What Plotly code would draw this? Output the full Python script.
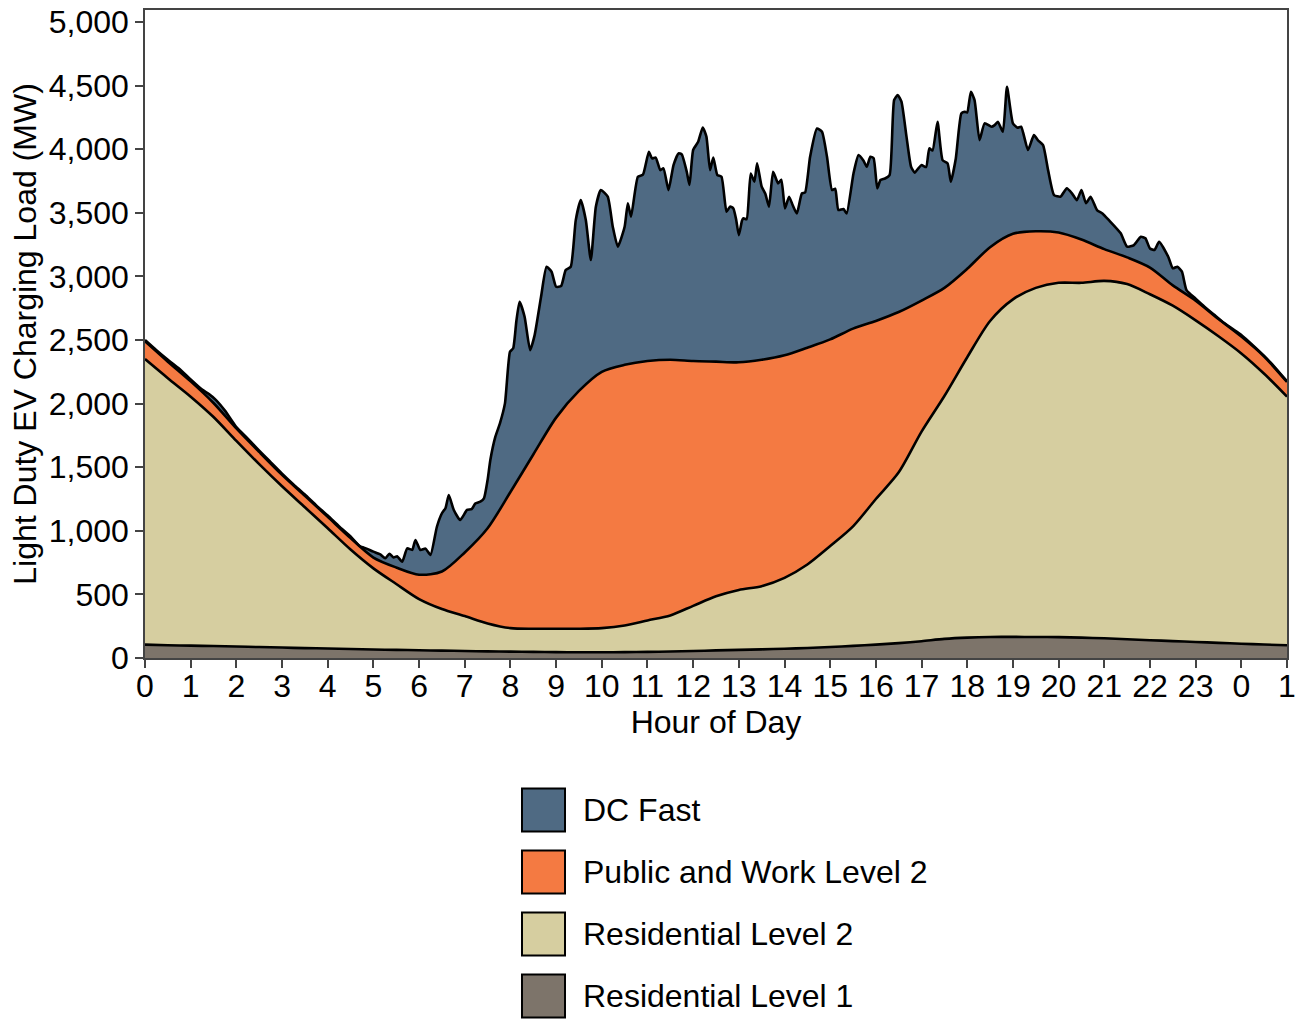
import plotly.graph_objects as go

# ---------------- data (MW, cumulative top of each stacked layer) ----------------
hours = [i * 0.5 for i in range(51)]  # 0 .. 25 h

res_l1_top = [105, 100, 97, 94, 90, 86, 82, 78, 75, 71, 67, 64, 61, 58, 55, 52, 50, 48, 46, 45,
              45, 46, 48, 51, 55, 60, 64, 68, 73, 79, 86, 95, 105, 117, 132, 150, 160, 165, 166, 165,
              164, 160, 155, 148, 140, 133, 126, 119, 112, 106, 100]

res_l2_top = [2350, 2200, 2055, 1895, 1707, 1524, 1350, 1185, 1020, 853, 705, 582, 463, 385, 330, 272,
              235, 230, 230, 230, 235, 255, 295, 335, 410, 485, 535, 565, 630, 735, 880, 1035, 1250,
              1460, 1780, 2060, 2365, 2650, 2820, 2910, 2950, 2950, 2965, 2940, 2860, 2770, 2655,
              2530, 2395, 2235, 2055]

public_top = [2490, 2330, 2175, 2005, 1805, 1620, 1440, 1275, 1110, 943, 790, 712, 655, 680, 830,
              1020, 1305, 1600, 1890, 2100, 2250, 2305, 2335, 2345, 2335, 2330, 2325, 2345, 2380,
              2440, 2505, 2590, 2650, 2720, 2810, 2910, 3060, 3230, 3335, 3355, 3345, 3290, 3215,
              3150, 3070, 2930, 2810, 2665, 2527, 2370, 2170]

dc_hours = [0, 0.25, 0.5, 0.75, 1.0, 1.25, 1.4, 1.55, 1.75, 2.0, 2.25, 2.5, 2.75, 3.0, 3.25, 3.5,
            3.75, 4.0, 4.25, 4.5, 4.7, 4.85, 5.0, 5.15, 5.26, 5.35, 5.44, 5.52, 5.63, 5.74, 5.85,
            5.92, 6.03, 6.14, 6.25, 6.39, 6.5, 6.58, 6.65, 6.76, 6.9, 7.05, 7.15, 7.23, 7.34, 7.42,
            7.5, 7.56, 7.67, 7.77, 7.88, 7.99, 8.06, 8.13, 8.2, 8.31, 8.43, 8.53, 8.67, 8.79, 8.9,
            9.0, 9.11, 9.21, 9.32, 9.43, 9.54, 9.65, 9.76, 9.87, 9.98, 10.13, 10.24, 10.35, 10.5,
            10.57, 10.64, 10.79, 10.9, 11.03, 11.1, 11.18, 11.28, 11.35, 11.46, 11.57, 11.68,
            11.75, 11.86, 11.92, 12.0, 12.11, 12.21, 12.29, 12.37, 12.44, 12.53, 12.62, 12.73,
            12.81, 12.88, 12.94, 13.0, 13.07, 13.1, 13.17, 13.26, 13.34, 13.4, 13.5, 13.58, 13.66,
            13.75, 13.86, 13.93, 14.01, 14.1, 14.18, 14.27, 14.38, 14.45, 14.56, 14.71, 14.82,
            14.93, 15.04, 15.11, 15.18, 15.29, 15.36, 15.51, 15.62, 15.73, 15.8, 15.88, 15.95,
            16.03, 16.1, 16.2, 16.3, 16.4, 16.48, 16.56, 16.67, 16.77, 16.85, 16.93, 17.0, 17.1,
            17.17, 17.24, 17.35, 17.46, 17.57, 17.64, 17.75, 17.87, 17.94, 18.0, 18.08, 18.16,
            18.27, 18.38, 18.53, 18.6, 18.67, 18.78, 18.87, 19.0, 19.1, 19.18, 19.33, 19.46,
            19.55, 19.66, 19.77, 19.9, 20.04, 20.18, 20.3, 20.4, 20.5, 20.6, 20.7, 20.84, 20.96,
            21.1, 21.36, 21.5, 21.65, 21.8, 21.9, 22.0, 22.1, 22.2, 22.4, 22.5, 22.6, 22.7, 22.8,
            23.0, 23.2, 23.4, 23.6, 23.8, 24.0, 24.25, 24.5, 24.75, 25.0]

dc_fast_top = [2500, 2420, 2345, 2275, 2190, 2110, 2075, 2030, 1945, 1815, 1725, 1630, 1540, 1450,
               1365, 1285, 1200, 1120, 1035, 955, 880, 860, 836, 815, 784, 820, 790, 800, 757, 862,
               850, 928, 849, 860, 810, 1032, 1138, 1180, 1281, 1164, 1085, 1164, 1170, 1215, 1229,
               1255, 1400, 1557, 1740, 1845, 2002, 2408, 2435, 2650, 2801, 2683, 2421, 2539, 2840,
               3076, 3037, 2919, 2925, 3050, 3076, 3443, 3600, 3443, 3129, 3548, 3679, 3627, 3391,
               3234, 3391, 3575, 3470, 3784, 3800, 3980, 3928, 3935, 3836, 3850, 3679, 3876, 3968,
               3960, 3823, 3719, 3994, 4059, 4171, 4099, 3836, 3935, 3797, 3784, 3509, 3550, 3535,
               3450, 3325, 3440, 3457, 3450, 3810, 3745, 3889, 3706, 3650, 3548, 3823, 3732, 3760,
               3535, 3627, 3560, 3495, 3653, 3660, 3941, 4163, 4138, 3941, 3679, 3690, 3522, 3530,
               3495, 3810, 3954, 3910, 3863, 3941, 3930, 3693, 3758, 3770, 3797, 4387, 4426, 4374,
               4099, 3863, 3816, 3850, 3876, 3860, 4007, 3990, 4216, 3915, 3889, 3745, 3928, 4282,
               4295, 4290, 4452, 4387, 4072, 4204, 4177, 4190, 4216, 4138, 4492, 4204, 4170, 4177,
               3994, 4112, 4070, 4033, 3836, 3640, 3627, 3693, 3650, 3600, 3679, 3575, 3627, 3522,
               3495, 3443, 3339, 3234, 3247, 3312, 3300, 3220, 3208, 3273, 3155, 3064, 3076, 3037,
               2893, 2825, 2760, 2700, 2640, 2590, 2540, 2460, 2375, 2280, 2175]

series_names = ["DC Fast", "Public and Work Level 2", "Residential Level 2", "Residential Level 1"]
series_colors = ["#4f6a83", "#f47a42", "#d6cea0", "#7d746a"]

x_tick_vals = list(range(26))
x_tick_text = [str(h) for h in range(24)] + ["0", "1"]
y_tick_vals = list(range(0, 5001, 500))

FONT = "Liberation Sans, Arial, sans-serif"
FS = 32

# body margin is removed by a post script, so the figure fills the window exactly
FIG_W, FIG_H = 1298, 1022
L, T, PW, PH = 145, 10, 1142, 648

fig = go.Figure()
smooth = dict(color="black", width=2.6, shape="spline", smoothing=0.8)

fig.add_trace(go.Scatter(x=hours, y=res_l1_top, mode="lines", line=smooth,
                         fill="tozeroy", fillcolor=series_colors[3], name=series_names[3],
                         showlegend=False))
fig.add_trace(go.Scatter(x=hours, y=res_l2_top, mode="lines", line=smooth,
                         fill="tonexty", fillcolor=series_colors[2], name=series_names[2],
                         showlegend=False))
fig.add_trace(go.Scatter(x=hours, y=public_top, mode="lines", line=smooth,
                         fill="tonexty", fillcolor=series_colors[1], name=series_names[1],
                         showlegend=False))
fig.add_trace(go.Scatter(x=dc_hours, y=dc_fast_top, mode="lines",
                         line=dict(color="black", width=2.6, shape="spline", smoothing=0.5),
                         fill="tonexty", fillcolor=series_colors[0], name=series_names[0],
                         showlegend=False))

# ---------------- manual legend below the plot (reference pixel positions) ----------------
def px_x(px):
    return (px - L) / PW
def px_y(py):
    return (T + PH - py) / PH

shapes = []
annotations = []
for i, (nm, col) in enumerate(zip(series_names, series_colors)):
    cy = 810 + i * 62
    shapes.append(dict(type="rect", xref="paper", yref="paper",
                       x0=px_x(522), x1=px_x(565), y0=px_y(cy + 21.5), y1=px_y(cy - 21.5),
                       fillcolor=col, line=dict(color="black", width=2)))
    annotations.append(dict(xref="paper", yref="paper", x=px_x(581), y=px_y(cy),
                            text=nm, showarrow=False, xanchor="left", yanchor="middle",
                            font=dict(family=FONT, size=FS, color="black")))

fig.update_layout(
    width=FIG_W, height=FIG_H,
    margin=dict(l=L, r=FIG_W - L - PW, t=T, b=FIG_H - T - PH, pad=0, autoexpand=False),
    paper_bgcolor="white", plot_bgcolor="white",
    font=dict(family=FONT, color="black"),
    shapes=shapes, annotations=annotations,
    showlegend=False,
)
fig.update_xaxes(range=[0, 25], tickvals=x_tick_vals, ticktext=x_tick_text,
                 ticks="outside", ticklen=8, tickwidth=1.5, tickcolor="#444",
                 showline=True, linecolor="#444", linewidth=1.5, mirror=True,
                 showgrid=False, zeroline=False, ticklabeloverflow="allow",
                 ticklabelstandoff=-9, automargin=False,
                 tickfont=dict(family=FONT, size=FS, color="black"),
                 title=dict(text="Hour of Day", font=dict(family=FONT, size=FS, color="black"),
                            standoff=4))
fig.update_yaxes(range=[0, 5095], tickvals=y_tick_vals, tickformat=",",
                 ticks="outside", ticklen=8, tickwidth=1.5, tickcolor="#444",
                 showline=True, linecolor="#444", linewidth=1.5, mirror=True,
                 showgrid=False, zeroline=False, ticklabeloverflow="allow",
                 automargin=False,
                 tickfont=dict(family=FONT, size=FS, color="black"),
                 title=dict(text="Light Duty EV Charging Load (MW)",
                            font=dict(family=FONT, size=FS, color="black"), standoff=3))

fig.write_html("out.html", config={"displayModeBar": False},
               post_script="document.body.style.margin='0';document.body.style.overflow='hidden';")
